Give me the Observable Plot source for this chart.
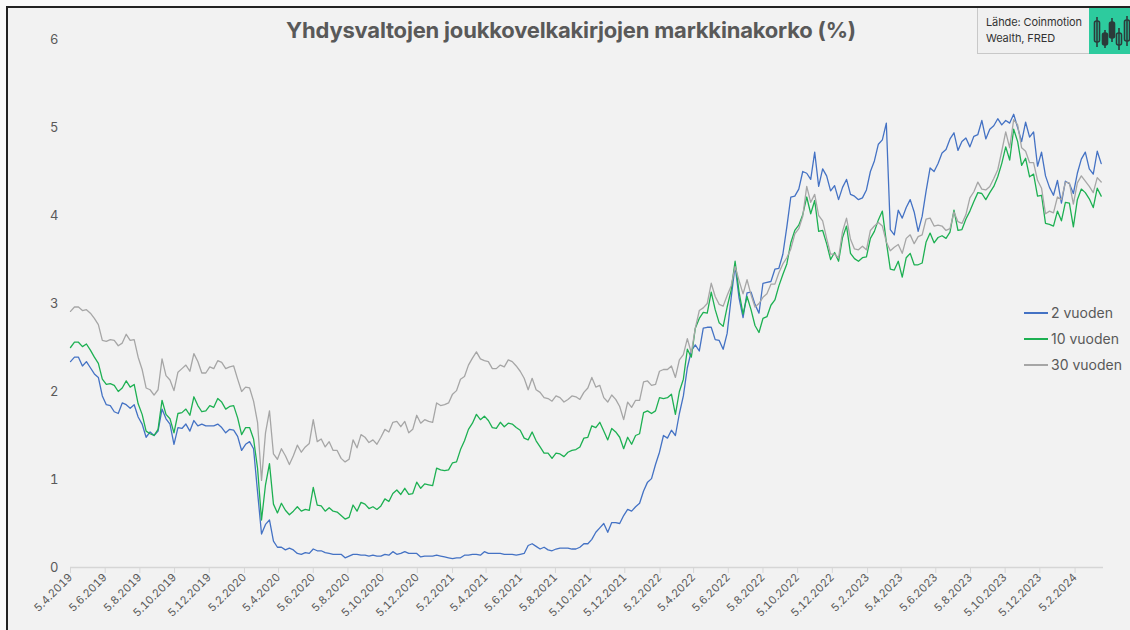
<!DOCTYPE html>
<html><head><meta charset="utf-8">
<script src="https://cdn.jsdelivr.net/npm/d3@7"></script>
<script src="https://cdn.jsdelivr.net/npm/@observablehq/plot@0.6"></script>
<style>
body{margin:0;background:#fafafa;width:1130px;height:630px;overflow:hidden;position:relative;font-family:Inter,"Noto Sans",sans-serif;}
#frame{position:absolute;left:6px;top:6px;width:1150px;height:640px;border:2px solid #222;background:#f2f2f2;box-sizing:border-box;}
#chart{position:absolute;left:0;top:0;}
#title{position:absolute;left:0;width:1142px;top:17px;text-align:center;font-weight:700;font-size:22px;color:#595959;letter-spacing:-0.2px;}
#source{position:absolute;left:977px;top:8px;width:112px;height:46px;background:#f0f0f0;border-left:1px solid #c8c8c8;border-bottom:1px solid #c8c8c8;box-sizing:border-box;padding:6px 0 0 8px;font-size:11px;line-height:16px;color:#333;white-space:nowrap;letter-spacing:-0.1px;}
#logo{position:absolute;left:1089px;top:8px;width:45px;height:46px;background:#2dcb9e;}
#legend{position:absolute;left:1024px;top:300px;font-size:14px;color:#595959;}
#legend .item{height:26px;line-height:26px;display:flex;align-items:center;}
#legend .sw{display:inline-block;width:24px;height:1.5px;margin-right:3px;}
</style></head>
<body>
<div id="frame"></div>
<div id="chart"></div>
<div id="title">Yhdysvaltojen joukkovelkakirjojen markkinakorko (%)</div>
<div id="source">Lähde: Coinmotion<br>Wealth, FRED</div>
<div id="logo"><svg width="45" height="46" viewBox="0 0 45 46">
<g stroke="#2b3b3a" stroke-width="1.6" fill="none">
<line x1="8" y1="9" x2="8" y2="39"/><rect x="5.5" y="13" width="5" height="21" rx="2"/>
<line x1="16" y1="22" x2="16" y2="40"/><rect x="13.5" y="25" width="5" height="12" rx="2" fill="#2b3b3a"/>
<line x1="23" y1="10" x2="23" y2="34"/><rect x="20.5" y="14" width="5" height="16" rx="2" fill="#2b3b3a"/>
<line x1="30" y1="20" x2="30" y2="42"/><rect x="27.5" y="25" width="5" height="12" rx="2"/>
<line x1="38" y1="8" x2="38" y2="38"/><rect x="35.5" y="12" width="5" height="21" rx="2"/>
</g></svg></div>
<div id="legend">
<div class="item"><span class="sw" style="background:#4472c4"></span>2 vuoden</div>
<div class="item"><span class="sw" style="background:#1db052"></span>10 vuoden</div>
<div class="item"><span class="sw" style="background:#a6a6a6"></span>30 vuoden</div>
</div>
<script>
// Weekly observations (Fridays) starting 5.4.2019
const startDate = Date.UTC(2019, 3, 5);

const y2_2019 = [2.34,2.39,2.39,2.29, 2.34,2.27,2.20,2.16,1.95, 1.85,1.84,1.77,1.75, 1.87,1.85,1.81,1.85, 1.71,1.63,1.48,1.54,1.50, 1.55,1.80,1.69,1.63, 1.40,1.59,1.58,1.63, 1.55,1.67,1.61,1.63,1.61, 1.61,1.61,1.63,1.59];
const y2_2020 = [1.53,1.57,1.56,1.49,1.33, 1.40,1.43,1.35,0.86, 0.38,0.49,0.54,0.30, 0.23,0.23,0.20,0.22, 0.20,0.16,0.15,0.17,0.16, 0.21,0.19,0.19,0.17, 0.16,0.15,0.15,0.15,0.11, 0.13,0.15,0.15,0.14, 0.14,0.13,0.14,0.13, 0.13,0.15,0.14,0.18,0.15, 0.16,0.18,0.16,0.16, 0.16,0.12,0.13,0.13];
const y2_2021 = [0.13,0.14,0.13,0.12,0.11, 0.10,0.11,0.11,0.14, 0.14,0.15,0.15,0.14, 0.18,0.16,0.16,0.16,0.16, 0.15,0.15,0.15,0.14, 0.15,0.16,0.25,0.27, 0.24,0.21,0.23,0.20,0.19, 0.21,0.22,0.22,0.22, 0.21,0.21,0.23,0.27, 0.27,0.32,0.40,0.45,0.50, 0.40,0.51,0.51,0.50, 0.59,0.66,0.64,0.69,0.73];
const y2_2022 = [0.87,0.97,1.01,1.17, 1.31,1.50,1.47,1.56, 1.50,1.75,1.95,2.27, 2.46,2.53,2.46,2.72,2.73, 2.73,2.59,2.58,2.48, 2.66,3.06,3.43,3.06, 2.84,3.12,3.13,2.99,2.89, 3.23,3.24,3.25,3.39, 3.40,3.56,3.87,4.21,4.22, 4.30,4.50,4.48,4.41, 4.72,4.33,4.53,4.45, 4.28,4.34,4.18,4.32,4.41];
const y2_2023 = [4.24,4.22,4.18,4.20, 4.29,4.50,4.62,4.81, 4.86,5.05,3.84,3.78,4.06, 3.97,4.09,4.18,4.04, 3.82,3.99,4.28,4.54, 4.50,4.59,4.71,4.75,4.87, 4.94,4.74,4.84,4.88, 4.78,4.90,4.92,5.08, 4.87,4.98,5.02,5.10,5.03, 5.08,5.05,5.15,5.00, 4.84,5.06,4.89,4.95, 4.56,4.72,4.45,4.32,4.23];
const y2_2024 = [4.40,4.14,4.39,4.36, 4.25,4.48,4.64,4.72, 4.53,4.47,4.73,4.59];

const y10_2019 = [2.50,2.56,2.56,2.51, 2.54,2.47,2.39,2.32,2.14, 2.08,2.09,2.07,2.00, 2.04,2.12,2.05,2.08, 1.86,1.74,1.55,1.52,1.50, 1.57,1.90,1.74,1.69, 1.53,1.75,1.76,1.80, 1.73,1.94,1.84,1.77,1.78, 1.84,1.82,1.92,1.88];
const y10_2020 = [1.80,1.83,1.84,1.70,1.51, 1.59,1.59,1.46,1.13, 0.54,0.94,1.18,0.72, 0.62,0.73,0.65,0.60, 0.64,0.69,0.64,0.66,0.65, 0.91,0.71,0.70,0.64, 0.68,0.64,0.63,0.59,0.55, 0.57,0.71,0.64,0.74, 0.72,0.67,0.69,0.66, 0.70,0.78,0.75,0.84,0.88, 0.83,0.90,0.83,0.84, 0.97,0.90,0.95,0.94];
const y10_2021 = [0.93,1.13,1.11,1.10,1.11, 1.19,1.20,1.34,1.44, 1.57,1.64,1.74,1.68, 1.72,1.67,1.59,1.58,1.65, 1.60,1.64,1.63,1.59, 1.56,1.47,1.45,1.54, 1.44,1.37,1.30,1.30,1.24, 1.30,1.29,1.26,1.31, 1.33,1.34,1.37,1.47, 1.48,1.61,1.59,1.65,1.55, 1.45,1.58,1.54,1.48, 1.35,1.48,1.40,1.50,1.52];
const y10_2022 = [1.76,1.78,1.75,1.78, 1.93,1.92,1.93,1.97, 1.74,2.00,2.14,2.48, 2.39,2.72,2.83,2.90,2.89, 3.13,2.93,2.78,2.74, 2.96,3.15,3.48,3.13, 2.88,3.08,2.93,2.75,2.67, 2.83,2.85,2.98,3.04, 3.20,3.33,3.45,3.69,3.83, 3.89,4.01,4.21,4.02, 4.17,3.82,3.83,3.68, 3.50,3.58,3.48,3.75,3.88];
const y10_2023 = [3.57,3.51,3.48,3.52, 3.53,3.74,3.82,3.95, 4.05,3.70,3.39,3.38,3.48, 3.30,3.52,3.57,3.44, 3.44,3.46,3.70,3.80, 3.69,3.75,3.77,3.74,3.81, 4.06,3.83,3.84,3.96, 4.05,4.16,4.26,4.25, 4.18,4.26,4.33,4.44,4.59, 4.78,4.63,4.98,4.84, 4.57,4.65,4.44,4.47, 4.22,4.23,3.91,3.90,3.88];
const y10_2024 = [4.05,3.94,4.15,4.14, 3.87,4.18,4.30,4.26, 4.19,4.09,4.31,4.22];

const y30_2019 = [2.91,2.96,2.96,2.92, 2.93,2.89,2.83,2.76,2.58, 2.57,2.59,2.58,2.52, 2.55,2.65,2.58,2.59, 2.39,2.25,2.04,2.02,1.96, 2.02,2.37,2.18,2.13, 2.01,2.22,2.26,2.30, 2.23,2.43,2.34,2.21,2.21, 2.28,2.26,2.35,2.33];
const y30_2020 = [2.26,2.28,2.29,2.14,2.00, 2.05,2.04,1.89,1.65, 0.99,1.53,1.78,1.29, 1.23,1.35,1.27,1.17, 1.27,1.39,1.31,1.37,1.41, 1.68,1.43,1.46,1.37, 1.43,1.33,1.33,1.24,1.20, 1.23,1.45,1.36,1.51, 1.48,1.42,1.45,1.40, 1.48,1.57,1.54,1.65,1.66, 1.60,1.66,1.53,1.57, 1.73,1.64,1.68,1.66];
const y30_2021 = [1.65,1.87,1.84,1.85,1.87, 1.97,2.01,2.14,2.17, 2.30,2.38,2.45,2.37, 2.35,2.34,2.26,2.26,2.30, 2.28,2.36,2.34,2.29, 2.23,2.15,2.02,2.15, 2.02,1.99,1.93,1.92,1.89, 1.95,1.93,1.88,1.91, 1.95,1.94,1.91,1.99, 2.04,2.16,2.05,2.07,1.93, 1.88,1.96,1.91,1.83, 1.68,1.88,1.82,1.90,1.90];
const y30_2022 = [2.11,2.12,2.07,2.08, 2.23,2.25,2.25,2.29, 2.16,2.36,2.42,2.60, 2.44,2.72,2.92,2.95,3.00, 3.23,3.08,2.99,2.97, 3.09,3.20,3.42,3.26, 3.11,3.27,3.10,2.96,3.00, 3.07,3.11,3.22,3.22, 3.35,3.45,3.52,3.62,3.79, 3.85,3.99,4.33,4.15, 4.24,4.00,3.94,3.74, 3.56,3.56,3.52,3.82,3.97];
const y30_2023 = [3.73,3.62,3.61,3.65, 3.61,3.83,3.88,3.92, 3.88,3.70,3.60,3.64,3.67, 3.57,3.74,3.78,3.68, 3.76,3.78,3.96,3.97, 3.88,3.89,3.88,3.83,3.85, 4.04,3.93,3.91,4.01, 4.20,4.27,4.38,4.30, 4.29,4.33,4.42,4.52,4.73, 4.95,4.77,5.09,5.03, 4.77,4.73,4.60,4.60, 4.40,4.31,4.02,4.05,4.03];
const y30_2024 = [4.21,4.18,4.38,4.37, 4.13,4.37,4.45,4.39, 4.33,4.26,4.43,4.38];

const tickLabels = ["5.4.2019","5.6.2019","5.8.2019","5.10.2019","5.12.2019","5.2.2020","5.4.2020","5.6.2020","5.8.2020","5.10.2020","5.12.2020","5.2.2021","5.4.2021","5.6.2021","5.8.2021","5.10.2021","5.12.2021","5.2.2022","5.4.2022","5.6.2022","5.8.2022","5.10.2022","5.12.2022","5.2.2023","5.4.2023","5.6.2023","5.8.2023","5.10.2023","5.12.2023","5.2.2024"];
const yTicks = [0,1,2,3,4,5,6];

const y2 = [].concat(y2_2019,y2_2020,y2_2021,y2_2022,y2_2023,y2_2024);
const y10 = [].concat(y10_2019,y10_2020,y10_2021,y10_2022,y10_2023,y10_2024);
const y30 = [].concat(y30_2019,y30_2020,y30_2021,y30_2022,y30_2023,y30_2024);
const n = Math.min(y2.length, y10.length, y30.length);
if (y2.length !== y10.length || y2.length !== y30.length) console.error("length mismatch", y2.length, y10.length, y30.length);
const dates = d3.range(n).map(i => new Date(startDate + i * 7 * 864e5));

const parseLabel = s => { const [d, m, y] = s.split(".").map(Number); return new Date(Date.UTC(y, m - 1, d)); };
const tickDates = tickLabels.map(parseLabel);
const labelOf = new Map(tickDates.map((d, i) => [+d, tickLabels[i]]));

const series = (vals) => vals.slice(0, n).map((v, i) => ({date: dates[i], v}));

const chart = Plot.plot({
  width: 1130, height: 630,
  marginLeft: 70, marginRight: 27, marginTop: 39, marginBottom: 63,
  style: {background: "transparent", fontFamily: "Inter, 'Noto Sans', sans-serif", color: "#595959", overflow: "visible"},
  x: {type: "utc", domain: [new Date(startDate), new Date(Date.UTC(2024, 2, 26))]},
  y: {domain: [0, 6]},
  marks: [
    Plot.ruleY([0], {stroke: "#d6d6d6", strokeWidth: 1.5}),
    Plot.axisY({ticks: yTicks, tickSize: 0, tickPadding: 12, fontSize: 13, tickFormat: d => String(d), fill: "#595959", label: null}),
    Plot.axisX({ticks: tickDates, tickFormat: d => labelOf.get(+d), tickRotate: -45, tickSize: 6, tickPadding: 2, stroke: "#d6d6d6", fontSize: 11, fill: "#595959", label: null}),
    Plot.lineY(series(y2), {x: "date", y: "v", stroke: "#4472c4", strokeWidth: 1.3}),
    Plot.lineY(series(y10), {x: "date", y: "v", stroke: "#1db052", strokeWidth: 1.3}),
    Plot.lineY(series(y30), {x: "date", y: "v", stroke: "#a6a6a6", strokeWidth: 1.3})
  ]
});
document.getElementById("chart").appendChild(chart);
</script>
</body></html>
